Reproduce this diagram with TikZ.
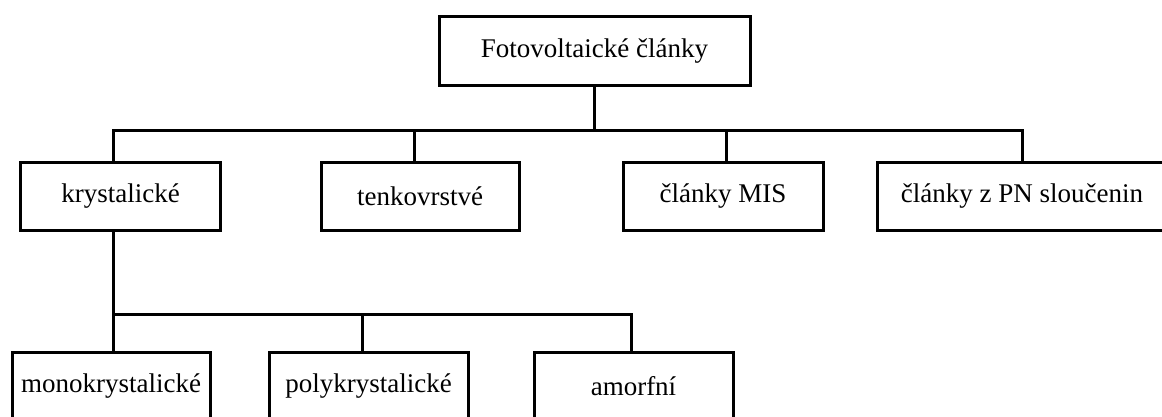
\documentclass[tikz,border=0pt]{standalone}
\usepackage{fontspec}
\setmainfont{Liberation Serif}
\begin{document}
\begin{tikzpicture}[x=1pt,y=-1pt,
  box/.style={draw=black,line width=3pt,fill=white,inner sep=0pt,
    minimum height=68.5pt,font=\fontsize{27}{32}\selectfont,text=black},
  conn/.style={draw=black,line width=3pt,line join=miter}]
\useasboundingbox[fill=white] (0,0) rectangle (1162,417);
\clip (0,0) rectangle (1162,417);
% nodes
\node[box,minimum width=311pt] (top) at (594.5,51) {Fotovoltaické články};
\node[box,minimum width=200pt] (kryst) at (120.5,196.5) {krystalické};
\node[box,minimum width=198pt] (tenk) at (420,196.5) {tenkovrstvé};
\node[box,minimum width=200pt] (mis) at (723,196.5) {články MIS};
\node[box,minimum width=290pt] (pn) at (1022,196.5) {články z PN sloučenin};
\node[box,minimum width=198pt] (mono) at (111,386.5) {monokrystalické};
\node[box,minimum width=199pt] (poly) at (368.5,386.5) {polykrystalické};
\node[box,minimum width=199pt] (amorf) at (633.5,386.5) {amorfní};
% upper tree
\draw[conn] (top.south) -- ++(0,43.5) coordinate (bus);
\draw[conn] ([xshift=-7.5pt]kryst.north) |- (bus) -| (pn.north);
\draw[conn] ([xshift=-6pt]tenk.north) -- ([xshift=-6pt]tenk.north |- bus);
\draw[conn] ([xshift=3pt]mis.north) -- ([xshift=3pt]mis.north |- bus);
% lower tree
\draw[conn] ([xshift=-7.5pt]kryst.south) -- ++(0,82) coordinate (bus2);
\draw[conn] (bus2) -- ([xshift=2pt]mono.north);
\draw[conn] (bus2) -| ([xshift=-2.5pt]amorf.north);
\draw[conn] ([xshift=-6.5pt]poly.north) -- ([xshift=-6.5pt]poly.north |- bus2);
\end{tikzpicture}
\end{document}
